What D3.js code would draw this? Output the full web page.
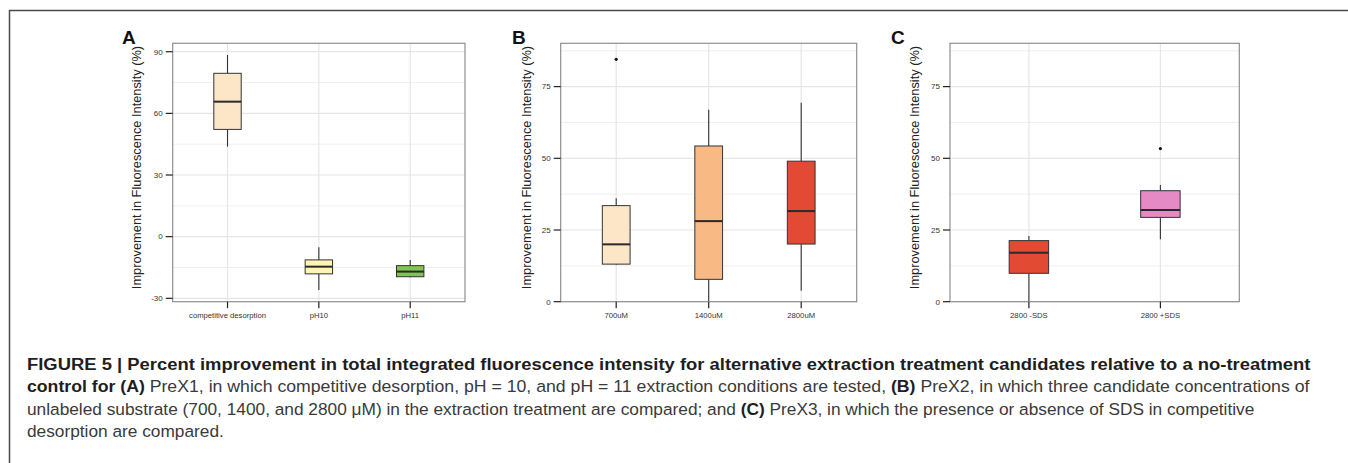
<!DOCTYPE html>
<html>
<head>
<meta charset="utf-8">
<script src="https://cdnjs.cloudflare.com/ajax/libs/d3/7.8.5/d3.min.js"></script>
<style>
  html, body { margin: 0; padding: 0; background: #fff; }
  svg { display: block; font-family: "Liberation Sans", Arial, sans-serif; }
</style>
</head>
<body>
<svg id="fig" width="1348" height="463"></svg>
<script>
//---DATA
var catsA = ['competitive desorption', 'pH10', 'pH11'];
var loA = [43.8, -25.9, -19.8];
var q1A = [52.2, -18.1, -19.5];
var medA = [65.7, -14.6, -17.0];
var q3A = [79.5, -11.3, -14.1];
var hiA = [88.4, -5.2, -11.3];
var outA = [[], [], []];
var ticksA = [-30, 0, 30, 60, 90];

var catsB = ['700uM', '1400uM', '2800uM'];
var loB = [12.8, 0, 3.8];
var q1B = [13.1, 7.8, 20.1];
var medB = [20.0, 28.1, 31.6];
var q3B = [33.5, 54.3, 49.0];
var hiB = [36.1, 66.9, 69.4];
var outB = [[84.5], [], []];
var ticksB = [0, 25, 50, 75];

var catsC = ['2800 -SDS', '2800 +SDS'];
var loC = [0, 21.8];
var q1C = [9.9, 29.4];
var medC = [17.1, 32.0];
var q3C = [21.3, 38.7];
var hiC = [22.9, 40.7];
var outC = [[], [53.4]];
var ticksC = [0, 25, 50, 75];

//---COLOURS
var fillA = ['#fde5c8', '#fcf6b2', '#7fc54e'];
var fillB = ['#fde5c8', '#f8b985', '#e34a33'];
var fillC = ['#e34a33', '#e68ac5'];

var yTitle = 'Improvement in Fluorescence Intensity (%)';

(function() {
  'use strict';

  var svg = d3.select('#fig');

  //---OUTER FRAME (top + left only)
  svg.append('path')
    .attr('d', 'M9.5,463 L9.5,10.5 L1348,10.5')
    .attr('fill', 'none')
    .attr('stroke', '#4a4a4a')
    .attr('stroke-width', 1.5);

  var panels = [
    { id: 'A', cats: catsA, lo: loA, q1: q1A, med: medA, q3: q3A, hi: hiA, out: outA, ticks: ticksA, fills: fillA,
      box: [172.7, 43.3, 465, 301.7], dom: [-31.65, 94.1], letterX: 122, titleX: 137 },
    { id: 'B', cats: catsB, lo: loB, q1: q1B, med: medB, q3: q3B, hi: hiB, out: outB, ticks: ticksB, fills: fillB,
      box: [560.7, 43.3, 856.7, 301.7], dom: [0, 90.1], letterX: 512, titleX: 526.7 },
    { id: 'C', cats: catsC, lo: loC, q1: q1C, med: medC, q3: q3C, hi: hiC, out: outC, ticks: ticksC, fills: fillC,
      box: [950, 43.3, 1239.3, 301.7], dom: [0, 90.1], letterX: 891, titleX: 915 }
  ];

  panels.forEach(draw_panel);
  draw_caption();

  //-------------------------
  function draw_panel(p) {
    var x0 = p.box[0], y0 = p.box[1], x1 = p.box[2], y1 = p.box[3];
    var g = svg.append('g').attr('class', 'panel_' + p.id);

    var y = d3.scaleLinear().domain(p.dom).range([y1, y0]);
    // ggplot style discrete axis: 0.6 units padding each side
    var n = p.cats.length;
    var xu = d3.scaleLinear().domain([0.4, n + 0.6]).range([x0, x1]);
    var x = function(i) { return xu(i + 1); };
    var bw = xu(1.3) - xu(1);

    //---GRID
    var step = p.ticks[1] - p.ticks[0];
    var minor = p.ticks.map(function(t) { return t + step / 2; })
      .concat([p.ticks[0] - step / 2])
      .filter(function(v) { return v > p.dom[0] && v < p.dom[1]; });

    g.selectAll('.minor').data(minor).enter().append('line')
      .attr('class', 'minor')
      .attr('x1', x0).attr('x2', x1)
      .attr('y1', function(d) { return y(d); })
      .attr('y2', function(d) { return y(d); })
      .attr('stroke', '#eeeeee').attr('stroke-width', 0.9);

    g.selectAll('.major').data(p.ticks).enter().append('line')
      .attr('class', 'major')
      .attr('x1', x0).attr('x2', x1)
      .attr('y1', function(d) { return y(d); })
      .attr('y2', function(d) { return y(d); })
      .attr('stroke', '#e6e6e6').attr('stroke-width', 1.2);

    g.selectAll('.vgrid').data(p.cats).enter().append('line')
      .attr('class', 'vgrid')
      .attr('x1', function(d, i) { return x(i); })
      .attr('x2', function(d, i) { return x(i); })
      .attr('y1', y0).attr('y2', y1)
      .attr('stroke', '#e6e6e6').attr('stroke-width', 1.2);

    //---BOXES
    var items = p.cats.map(function(c, i) {
      return { c: c, i: i, lo: p.lo[i], q1: p.q1[i], med: p.med[i], q3: p.q3[i], hi: p.hi[i], out: p.out[i] };
    });

    var bx = g.selectAll('.box_g').data(items).enter().append('g').attr('class', 'box_g');

    bx.append('line')
      .attr('x1', function(d) { return x(d.i); })
      .attr('x2', function(d) { return x(d.i); })
      .attr('y1', function(d) { return y(d.hi); })
      .attr('y2', function(d) { return y(d.q3); })
      .attr('stroke', '#333').attr('stroke-width', 1.1);

    bx.append('line')
      .attr('x1', function(d) { return x(d.i); })
      .attr('x2', function(d) { return x(d.i); })
      .attr('y1', function(d) { return y(d.q1); })
      .attr('y2', function(d) { return y(d.lo); })
      .attr('stroke', '#333').attr('stroke-width', 1.1);

    bx.append('rect')
      .attr('x', function(d) { return x(d.i) - bw / 2; })
      .attr('width', bw)
      .attr('y', function(d) { return y(d.q3); })
      .attr('height', function(d) { return y(d.q1) - y(d.q3); })
      .attr('fill', function(d) { return p.fills[d.i]; })
      .attr('stroke', '#333').attr('stroke-width', 1);

    bx.append('line')
      .attr('x1', function(d) { return x(d.i) - bw / 2; })
      .attr('x2', function(d) { return x(d.i) + bw / 2; })
      .attr('y1', function(d) { return y(d.med); })
      .attr('y2', function(d) { return y(d.med); })
      .attr('stroke', '#2a2a2a').attr('stroke-width', 2);

    bx.each(function(d) {
      d3.select(this).selectAll('circle').data(d.out).enter().append('circle')
        .attr('cx', x(d.i))
        .attr('cy', function(v) { return y(v); })
        .attr('r', 1.6)
        .attr('fill', '#111');
    });

    //---PANEL BORDER
    g.append('rect')
      .attr('x', x0).attr('y', y0)
      .attr('width', x1 - x0).attr('height', y1 - y0)
      .attr('fill', 'none').attr('stroke', '#8f8f8f').attr('stroke-width', 1.2);

    //---Y AXIS
    g.selectAll('.ytick').data(p.ticks).enter().append('line')
      .attr('class', 'ytick')
      .attr('x1', x0 - 7).attr('x2', x0)
      .attr('y1', function(d) { return y(d); })
      .attr('y2', function(d) { return y(d); })
      .attr('stroke', '#222').attr('stroke-width', 1.2);

    g.selectAll('.ylab').data(p.ticks).enter().append('text')
      .attr('class', 'ylab')
      .attr('x', x0 - 10)
      .attr('y', function(d) { return y(d); })
      .attr('dy', '0.35em')
      .attr('text-anchor', 'end')
      .attr('font-size', 8)
      .attr('fill', '#333')
      .text(function(d) { return d; });

    //---X AXIS
    g.selectAll('.xtick').data(p.cats).enter().append('line')
      .attr('class', 'xtick')
      .attr('x1', function(d, i) { return x(i); })
      .attr('x2', function(d, i) { return x(i); })
      .attr('y1', y1).attr('y2', y1 + 6.5)
      .attr('stroke', '#222').attr('stroke-width', 1.2);

    g.selectAll('.xlab').data(p.cats).enter().append('text')
      .attr('class', 'xlab')
      .attr('x', function(d, i) { return x(i); })
      .attr('y', y1 + 16.5)
      .attr('text-anchor', 'middle')
      .attr('font-size', 7.7)
      .attr('fill', '#333')
      .text(function(d) { return d; });

    //---TITLE + LETTER
    g.append('text')
      .attr('transform', 'translate(' + p.titleX + ',' + 167.5 + ') rotate(-90)')
      .attr('dy', '0.35em')
      .attr('text-anchor', 'middle')
      .attr('font-size', 12.8)
      .attr('fill', '#222')
      .text(yTitle);

    g.append('text')
      .attr('x', p.letterX)
      .attr('y', 44)
      .attr('font-size', 19)
      .attr('font-weight', 'bold')
      .attr('fill', '#111')
      .text(p.id);
  } //--- end draw_panel

  //-------------------------
  function draw_caption() {
    var lines = [
      { y: 370, end: 1311, parts: [
        ['b', 'FIGURE 5 | Percent improvement in total integrated fluorescence intensity for alternative extraction treatment candidates relative to a no-treatment']] },
      { y: 392.5, end: 1311, parts: [
        ['b', 'control for (A)'],
        ['n', ' PreX1, in which competitive desorption, pH = 10, and pH = 11 extraction conditions are tested, '],
        ['b', '(B)'],
        ['n', ' PreX2, in which three candidate concentrations of']] },
      { y: 415, end: 1256, parts: [
        ['n', 'unlabeled substrate (700, 1400, and 2800 \u03bcM) in the extraction treatment are compared; and '],
        ['b', '(C)'],
        ['n', ' PreX3, in which the presence or absence of SDS in competitive']] },
      { y: 437.5, end: null, parts: [
        ['n', 'desorption are compared.']] }
    ];
    var left = 27;
    var lastScale = 0.9;

    lines.forEach(function(l) {
      var t = svg.append('text')
        .attr('x', left)
        .attr('y', l.y)
        .attr('font-size', 17)
        .attr('xml:space', 'preserve')
        .style('white-space', 'pre');
      l.parts.forEach(function(pt) {
        t.append('tspan')
          .attr('font-weight', pt[0] === 'b' ? 'bold' : 'normal')
          .attr('fill', pt[0] === 'b' ? '#1e1e1e' : '#3a3a3a')
          .text(pt[1]);
      });
      var w = t.node().getComputedTextLength();
      var s = l.end ? (l.end - left) / w : lastScale;
      lastScale = s;
      t.attr('transform', 'translate(' + left + ',0) scale(' + s + ',1) translate(' + (-left) + ',0)');
    });
  } //--- end draw_caption

})();
</script>
</body>
</html>
